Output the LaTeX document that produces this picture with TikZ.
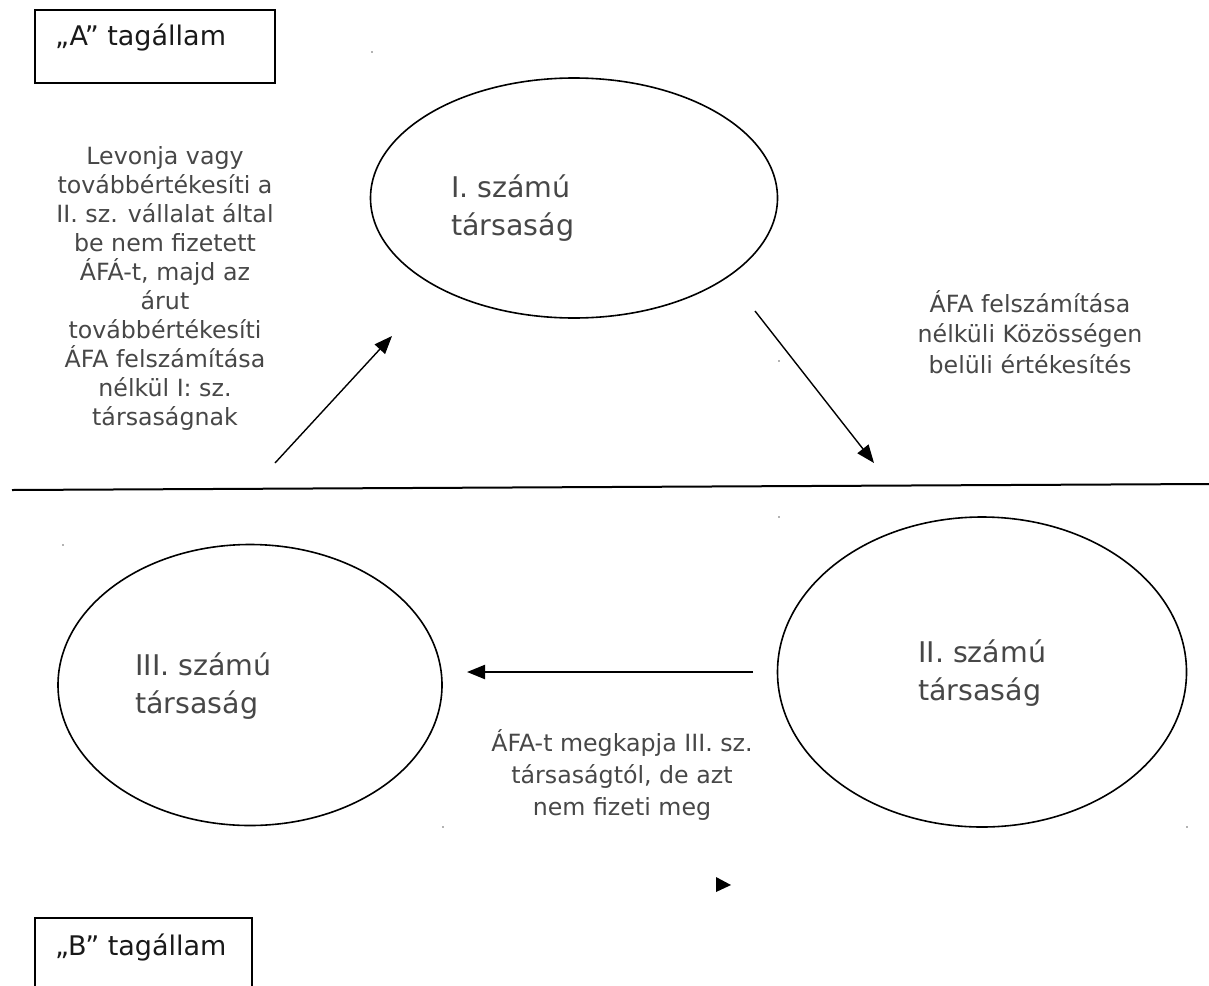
\documentclass[tikz,border=0pt]{standalone}
\usepackage{fontspec}
\setmainfont{DejaVu Sans}
\usetikzlibrary{arrows.meta,shapes.geometric}
\colorlet{label text color}{black!72}
\tikzset{
    x={1pt},
    y={-1pt},
    company/.style 2 args={
        draw=black, ellipse,
        line width={1.6pt},
        inner sep=0pt, outer sep=0pt,
        minimum width={#1},
        minimum height={#2},
    },
    company label/.style={
        font={\fontsize{28.5}{38}\selectfont},
        text=label text color,
        align=left,
        anchor=base west,
        inner sep=0pt,
    },
    note/.style={
        font={\fontsize{23.7}{#1}\selectfont},
        text=label text color,
        align=center,
        anchor=base,
        inner sep=0pt,
    },
    note/.default={29},
    member state/.style={
        draw=black, rectangle,
        line width={2pt},
        anchor=north west,
        inner sep=0pt,
        minimum width={#1},
        minimum height={80},
    },
    state label/.style={
        font={\fontsize{27}{29}\selectfont},
        text=black!90,
        anchor=base west,
        inner sep=0pt,
    },
    flow/.style={
        draw=black,
        line width={1.4pt},
        -{Triangle[length=18pt,width=14pt]},
    },
    border/.style={
        draw=black,
        line width={2pt},
    },
}

\begin{document}
\begin{tikzpicture}
\useasboundingbox (0,0) rectangle (1209,985);
% member states
\node[member state={240}, minimum height={73}] (stateA) at (34,9) {};
\node[state label] (labelA) at (55,45) {„A” tagállam};
\node[member state={217}] (stateB) at (34,917) {};
\node[state label] (labelB) at (55,955) {„B” tagállam};
\draw[border] (12,490) -- (1209,484);
% companies (base = last line)
\node[company={407}{240}] (company I) at (574,198) {};
\node[company={409}{310}] (company II) at (982,672) {};
\node[company={384}{281}] (company III) at (250,685) {};
\node[company label] (label I) at (451,235) {I. számú\\társaság};
\node[company label] (label II) at (918,700) {II. számú\\társaság};
\node[company label] (label III) at (135,713) {III. számú\\társaság};
% flows
\coordinate (buy start) at (275,463);
\coordinate (buy end) at (392,336);
\coordinate (sale start) at (755,311);
\coordinate (sale end) at (874,463);
\coordinate (vat start) at (753,672);
\coordinate (vat end) at (467,672);
\draw[flow] (buy start) -- (buy end);
\draw[flow] (sale start) -- (sale end);
\draw[flow, line width={2.2pt}] (vat start) -- (vat end);
\fill (716,877) -- (731,885) -- (716,892) -- cycle;
% notes (base = last line)
\node[note] (note buy) at (165,425) {Levonja vagy\\továbbértékesíti a\\II. sz. vállalat által\\be nem fizetett\\ÁFÁ-t, majd az\\árut\\továbbértékesíti\\ÁFA felszámítása\\nélkül I: sz.\\társaságnak};
\node[note={30.5}] (note sale) at (1030,373) {ÁFA felszámítása\\nélküli Közösségen\\belüli értékesítés};
\node[note={32}] (note vat) at (622,815) {ÁFA-t megkapja III. sz.\\társaságtól, de azt\\nem fizeti meg};
% specks
\foreach \px/\py in {372/52, 779/361, 779/517, 63/545, 443/827, 1187/827}
    \fill[black!60] (\px,\py) circle[radius=0.8pt];
\end{tikzpicture}
\end{document}
